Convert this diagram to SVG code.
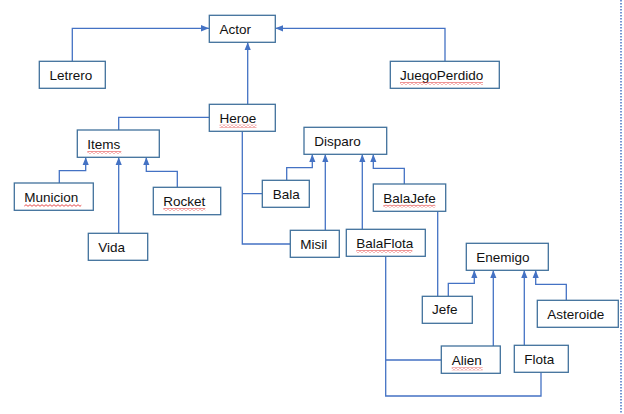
<svg xmlns="http://www.w3.org/2000/svg" width="624" height="414" viewBox="0 0 624 414">
<style>
.box{fill:#fff;stroke:#41719C;stroke-width:1.3}
.lbl{font-family:"Liberation Sans",Arial,sans-serif;font-size:13.5px;fill:#111}
.con{fill:none;stroke:#4472C4;stroke-width:1.3}
.arr{marker-end:url(#tri)}
.sq{fill:url(#wave)}
</style>
<defs>
<marker id="tri" markerUnits="userSpaceOnUse" markerWidth="8" markerHeight="8" viewBox="0 0 8 8" refX="8" refY="4" orient="auto">
<path d="M0,0.8 L8,4 L0,7.2 Z" fill="#4472C4"/>
</marker>
<pattern id="wave" patternUnits="userSpaceOnUse" width="4" height="3">
<path d="M0,2.3 L2,0.7 L4,2.3" fill="none" stroke="#E02020" stroke-width="0.8"/>
</pattern>
</defs>
<rect width="624" height="414" fill="#fff"/>
<line x1="621" y1="0" x2="621" y2="414" stroke="#4472C4" stroke-width="1.5" stroke-dasharray="1.5 1.5"/>
<g id="connectors">
<path class="con arr" d="M72.3,61 V28.3 H209"/>
<path class="con arr" d="M445,61 V28.3 H275.3"/>
<path class="con arr" d="M247.7,104 V42.3"/>
<path class="con" d="M209,117.3 H118.7 V130"/>
<path class="con arr" d="M59.3,183 V170.7 H85.7 V157.3"/>
<path class="con arr" d="M118.7,233 V157.3"/>
<path class="con arr" d="M177.3,187 V171.3 H146.3 V157.3"/>
<path class="con" d="M242.3,131 V244 H290.3 M242.3,193.7 H262.3"/>
<path class="con arr" d="M286.7,180 V167.7 H312.3 V154.3"/>
<path class="con arr" d="M325.3,230 V154.3"/>
<path class="con arr" d="M362.3,229 V154.3"/>
<path class="con arr" d="M404.3,184 V168.3 H373.3 V154.3"/>
<path class="con" d="M437.7,211 V296"/>
<path class="con arr" d="M448.3,296 V283.3 H474.3 V270.3"/>
<path class="con arr" d="M493.3,346 V270.3"/>
<path class="con arr" d="M524.3,345 V270.3"/>
<path class="con arr" d="M566.3,300 V284.3 H535.7 V270.3"/>
<path class="con" d="M385.7,256 V396 H541 V372.3 M385.7,360 H441.3"/>
</g>
<g id="Actor"><rect class="box" x="209.3" y="15.3" width="66" height="27"/><text class="lbl" x="219.5" y="34">Actor</text></g>
<g id="Letrero"><rect class="box" x="39.3" y="61.3" width="66" height="27"/><text class="lbl" x="49.5" y="80">Letrero</text></g>
<g id="JuegoPerdido"><rect class="box" x="390.3" y="61.3" width="109" height="27"/><text class="lbl" x="400" y="80">JuegoPerdido</text><rect class="sq" x="400" y="82" width="83" height="3"/></g>
<g id="Heroe"><rect class="box" x="209.3" y="104.3" width="66" height="27"/><text class="lbl" x="219.5" y="122.7">Heroe</text><rect class="sq" x="219.5" y="124.7" width="37" height="3"/></g>
<g id="Items"><rect class="box" x="77.3" y="130" width="82" height="27.3"/><text class="lbl" x="87.3" y="149">Items</text><rect class="sq" x="87.3" y="151" width="34" height="3"/></g>
<g id="Municion"><rect class="box" x="14.3" y="183" width="79" height="27.3"/><text class="lbl" x="24.3" y="202">Municion</text><rect class="sq" x="24.3" y="204" width="57" height="3"/></g>
<g id="Rocket"><rect class="box" x="153.3" y="187.3" width="67.4" height="27.4"/><text class="lbl" x="163.3" y="206">Rocket</text><rect class="sq" x="163.3" y="208" width="42" height="3"/></g>
<g id="Vida"><rect class="box" x="88.3" y="233.3" width="59.4" height="27"/><text class="lbl" x="98.3" y="252.3">Vida</text></g>
<g id="Disparo"><rect class="box" x="304" y="127.3" width="82.7" height="27"/><text class="lbl" x="314.3" y="146">Disparo</text></g>
<g id="Bala"><rect class="box" x="262.3" y="180.3" width="47" height="27"/><text class="lbl" x="272.7" y="198.7">Bala</text></g>
<g id="Misil"><rect class="box" x="290.3" y="230.3" width="49" height="27"/><text class="lbl" x="300.3" y="249">Misil</text></g>
<g id="BalaJefe"><rect class="box" x="373.3" y="184" width="72.4" height="27.3"/><text class="lbl" x="383.3" y="202.7">BalaJefe</text><rect class="sq" x="383.3" y="204.7" width="52" height="3"/></g>
<g id="BalaFlota"><rect class="box" x="346.3" y="229.3" width="79" height="27"/><text class="lbl" x="356.3" y="248">BalaFlota</text><rect class="sq" x="356.3" y="250" width="56" height="3"/></g>
<g id="Enemigo"><rect class="box" x="466.3" y="243.3" width="82" height="27"/><text class="lbl" x="476.3" y="262.3">Enemigo</text></g>
<g id="Jefe"><rect class="box" x="422.3" y="296.3" width="50" height="27"/><text class="lbl" x="432" y="314.3">Jefe</text></g>
<g id="Asteroide"><rect class="box" x="537.3" y="300.3" width="81" height="27"/><text class="lbl" x="547.3" y="319">Asteroide</text></g>
<g id="Alien"><rect class="box" x="441.3" y="346" width="59" height="27.3"/><text class="lbl" x="451.7" y="365.3">Alien</text><rect class="sq" x="451.7" y="367.3" width="31" height="3"/></g>
<g id="Flota"><rect class="box" x="514.3" y="345.3" width="54" height="27"/><text class="lbl" x="524.3" y="364">Flota</text></g>
</svg>
